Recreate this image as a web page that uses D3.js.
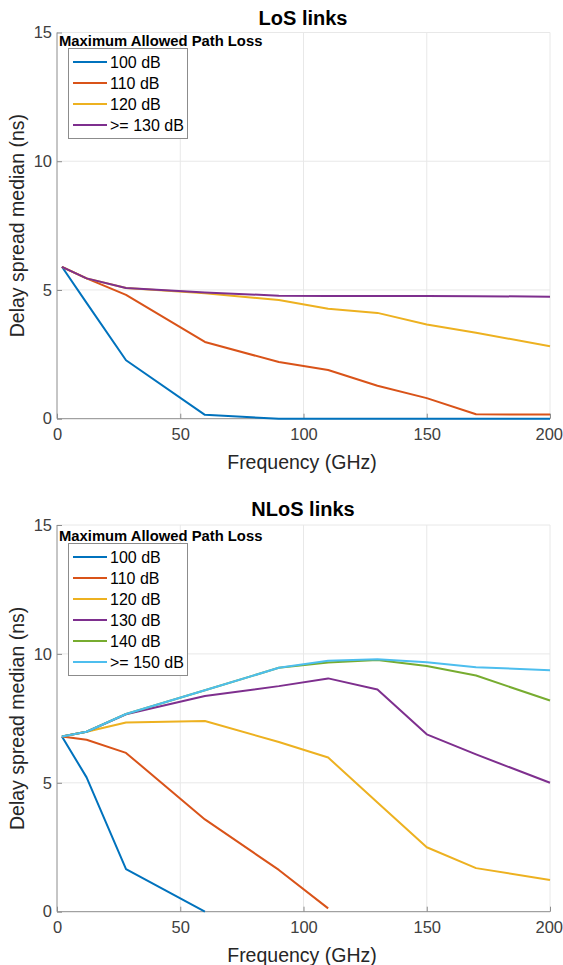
<!DOCTYPE html>
<html><head><meta charset="utf-8">
<script src="https://cdn.jsdelivr.net/npm/d3@7"></script>
<style>
body{margin:0;background:#fff;}
svg{display:block;font-family:"Liberation Sans",Arial,Helvetica,sans-serif;}
</style></head>
<body>
<svg id="chart" width="563" height="965"></svg>
<script>
// ---- data ----
const frequencies = [2, 12, 28, 60, 90, 110, 130, 150, 170, 200];
const xTicks = [0, 50, 100, 150, 200];
const yTicks = [0, 5, 10, 15];
const colors = ["#0072BD", "#D95319", "#EDB120", "#7E2F8E", "#77AC30", "#4DBEEE"];

// LoS
const losLabels = ["100 dB", "110 dB", "120 dB", ">= 130 dB"];
const los100 = [5.9, 4.5, 2.27, 0.15, 0.0, 0.0, 0.0, 0.0, 0.0, 0.0];
const los110 = [5.9, 5.45, 4.81, 2.98, 2.2, 1.89, 1.28, 0.8, 0.17, 0.16];
const los120 = [5.9, 5.45, 5.08, 4.87, 4.61, 4.27, 4.11, 3.66, 3.34, 2.81];
const los130 = [5.9, 5.45, 5.08, 4.9, 4.78, 4.77, 4.77, 4.77, 4.76, 4.74];

// NLoS
const nlosLabels = ["100 dB", "110 dB", "120 dB", "130 dB", "140 dB", ">= 150 dB"];
const nlos100 = [6.8, 5.21, 1.65, 0.0];
const nlos110 = [6.8, 6.67, 6.16, 3.58, 1.62, 0.13];
const nlos120 = [6.8, 6.98, 7.34, 7.4, 6.58, 5.98, 4.24, 2.5, 1.69, 1.23];
const nlos130 = [6.8, 6.98, 7.66, 8.37, 8.75, 9.05, 8.62, 6.88, 6.1, 5.0];
const nlos140 = [6.8, 6.98, 7.67, 8.59, 9.46, 9.67, 9.76, 9.53, 9.16, 8.19];
const nlos150 = [6.8, 6.98, 7.67, 8.59, 9.46, 9.73, 9.79, 9.68, 9.48, 9.37];

const svg = d3.select("#chart");

function panel(cfg) {
  const x = d3.scaleLinear().domain([0, 200]).range([57, 550]);
  const y = d3.scaleLinear().domain([0, 15]).range([cfg.y0, cfg.y1]);
  const g = svg.append("g");

  // grid
  g.selectAll(".gx").data(xTicks.filter(d => d > 0)).enter().append("line")
    .attr("x1", d => x(d)).attr("x2", d => x(d))
    .attr("y1", y(0)).attr("y2", y(15))
    .attr("stroke", "#e8e8e8").attr("stroke-width", 1);
  g.selectAll(".gy").data(yTicks.filter(d => d > 0)).enter().append("line")
    .attr("x1", x(0)).attr("x2", x(200))
    .attr("y1", d => y(d)).attr("y2", d => y(d))
    .attr("stroke", "#e8e8e8").attr("stroke-width", 1);

  // axes
  const xAxis = d3.axisBottom(x).tickValues(xTicks).tickSize(-5).tickPadding(10).tickFormat(d3.format("d"));
  const yAxis = d3.axisLeft(y).tickValues(yTicks).tickSize(-5).tickPadding(5).tickFormat(d3.format("d"));
  const gx = g.append("g").attr("transform", `translate(0,${y(0)})`).call(xAxis);
  const gy = g.append("g").attr("transform", `translate(${x(0)},0)`).call(yAxis);
  [gx, gy].forEach(a => {
    a.select(".domain").attr("stroke", "#8c8c8c").attr("stroke-width", 1);
    a.selectAll(".tick line").attr("stroke", "#8c8c8c");
    a.selectAll(".tick text").attr("fill", "#404040").style("font-size", "16.5px").style("font-family", "Liberation Sans, Arial, sans-serif");
  });
  gx.selectAll(".tick text").filter(d => d === 200).attr("text-anchor", "end").attr("dx", "12.5");
  gx.select(".domain").attr("d", `M${x(0)},0H${x(200)}`);
  gy.select(".domain").attr("d", `M0,${y(0)}V${y(15)}`);

  // lines
  const line = d3.line().x((d, i) => x(frequencies[i])).y(d => y(d));
  cfg.series.forEach((s, i) => {
    g.append("path").datum(s).attr("d", line)
      .attr("fill", "none").attr("stroke", colors[i]).attr("stroke-width", 2)
      .attr("stroke-linejoin", "round");
  });

  // title
  g.append("text").attr("x", 303).attr("y", cfg.titleY).attr("text-anchor", "middle")
    .attr("font-weight", "bold").attr("font-size", 20).attr("fill", "#000").text(cfg.title);
  // x label
  g.append("text").attr("x", 302).attr("y", y(0) + 50).attr("text-anchor", "middle")
    .attr("font-size", 19.5).attr("fill", "#262626").text("Frequency (GHz)");
  // y label
  g.append("text").attr("transform", `translate(24,${(y(0) + y(15)) / 2}) rotate(-90)`)
    .attr("text-anchor", "middle").attr("font-size", 19.5).attr("fill", "#262626")
    .text("Delay spread median (ns)");

  // legend
  const lg = g.append("g");
  lg.append("text").attr("x", 59).attr("y", cfg.legTop - 2).attr("font-weight", "bold")
    .attr("font-size", 14.8).attr("fill", "#000").text("Maximum Allowed Path Loss");
  const n = cfg.labels.length;
  lg.append("rect").attr("x", 68.5).attr("y", cfg.legTop + 0.5).attr("width", 119)
    .attr("height", n * 21 + 6).attr("fill", "#fff").attr("stroke", "#8c8c8c").attr("stroke-width", 1);
  cfg.labels.forEach((lab, i) => {
    const cy = cfg.legTop + 14 + i * 21;
    lg.append("line").attr("x1", 73).attr("x2", 107).attr("y1", cy).attr("y2", cy)
      .attr("stroke", colors[i]).attr("stroke-width", 2);
    lg.append("text").attr("x", 110).attr("y", cy + 6).attr("font-size", 16)
      .attr("fill", "#000").text(lab);
  });
}

panel({
  y0: 418.7, y1: 32.5, title: "LoS links", titleY: 25, legTop: 48,
  labels: losLabels, series: [los100, los110, los120, los130]
});
panel({
  y0: 911.7, y1: 525, title: "NLoS links", titleY: 516, legTop: 543,
  labels: nlosLabels, series: [nlos100, nlos110, nlos120, nlos130, nlos140, nlos150]
});
</script>
</body></html>
